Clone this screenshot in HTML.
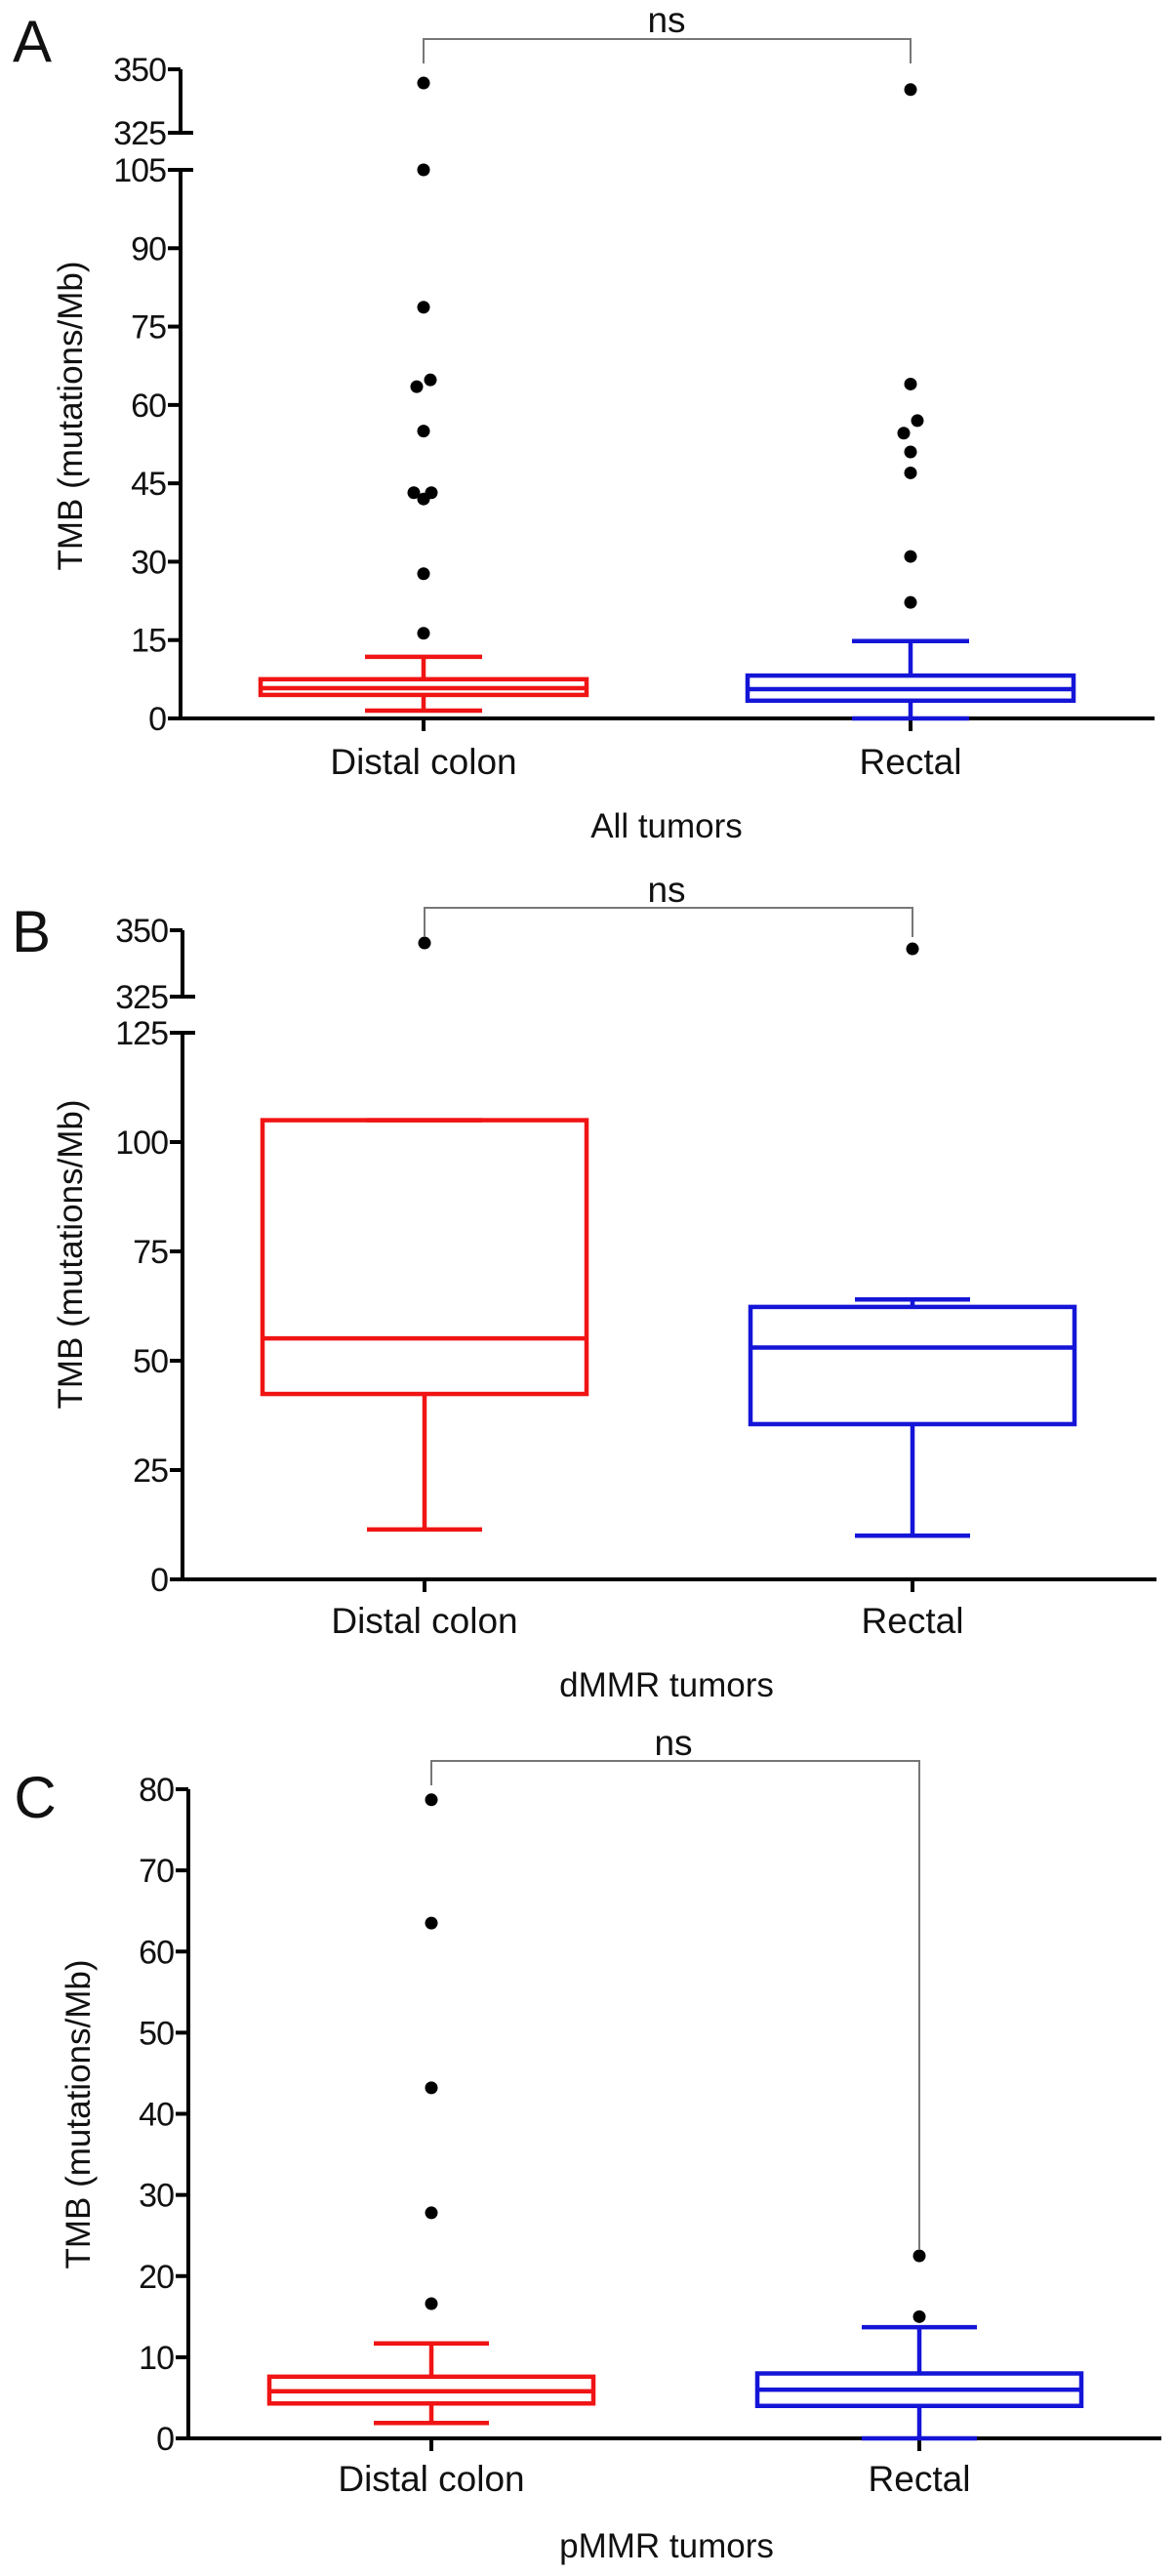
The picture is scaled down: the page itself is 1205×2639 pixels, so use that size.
<!DOCTYPE html>
<html><head><meta charset="utf-8"><style>
html,body{margin:0;padding:0;background:#fff}
svg{display:block;font-family:"Liberation Sans",Arial,sans-serif}
</style></head><body>
<svg id="fig" width="1205" height="2639" viewBox="0 0 1205 2639" xmlns="http://www.w3.org/2000/svg"></svg>
<script>
// ---- data ----
const categories = ["Distal colon", "Rectal"];
const groupTitles = ["All tumors", "dMMR tumors", "pMMR tumors"];
const panelLetters = ["A", "B", "C"];
// box stats: [min, q1, median, q3, max]
const boxA_distal = [1.5, 4.5, 5.8, 7.5, 11.8];
const boxA_rectal = [0, 3.4, 5.6, 8.2, 14.8];
const outA_distal = [344.6, 105, 78.7, 63.5, 64.8, 55, 43.2, 42, 43.2, 27.7, 16.3];
const outA_rectal = [342, 64, 57, 54.6, 51, 47, 31, 22.2];
const boxB_distal = [11.4, 42.4, 55.1, 105, 105];
const boxB_rectal = [10, 35.5, 53, 62.3, 64];
const outB_distal = [345.2];
const outB_rectal = [343];
const boxC_distal = [1.9, 4.3, 5.8, 7.6, 11.7];
const boxC_rectal = [0, 4, 6, 8, 13.7];
const outC_distal = [78.7, 63.5, 43.2, 27.8, 16.6];
const outC_rectal = [22.5, 15];
const ticksA_low = [0, 15, 30, 45, 60, 75, 90, 105];
const ticksA_high = [325, 350];
const ticksB_low = [0, 25, 50, 75, 100, 125];
const ticksB_high = [325, 350];
const ticksC = [0, 10, 20, 30, 40, 50, 60, 70, 80];

// ---- layout (not data) ----
const svg = document.getElementById('fig');
const NS = 'http://www.w3.org/2000/svg';
function mk(tag, attrs, parent) {
  const e = document.createElementNS(NS, tag);
  for (const k in attrs) e.setAttribute(k, attrs[k]);
  (parent || svg).appendChild(e);
  return e;
}
const panels = [
  {axisX:185, xEnd:1183, cx:[434,933], boxHalf:167, capHalf:60,
   low:{v0:0, v1:105, p0:736, p1:174}, high:{v0:325, v1:350, p0:136, p1:71},
   ticksLow:ticksA_low, ticksHigh:ticksA_high,
   boxes:[boxA_distal, boxA_rectal], outs:[outA_distal, outA_rectal],
   jit:[[0,0,0,-7,7,0,-10,0,8,0,0],[0,0,7,-7,0,0,0,0]],
   letter:[33,63], ns:[683,33], brY:40, legL:65, legR:65,
   catY:793, titleY:858, ytitle:[72,426]},
  {axisX:187, xEnd:1185, cx:[435,935], boxHalf:166, capHalf:59,
   low:{v0:0, v1:125, p0:1618, p1:1058}, high:{v0:325, v1:350, p0:1021, p1:953},
   ticksLow:ticksB_low, ticksHigh:ticksB_high,
   boxes:[boxB_distal, boxB_rectal], outs:[outB_distal, outB_rectal],
   jit:[[0],[0]],
   letter:[32,975], ns:[683,924], brY:930, legL:960, legR:960,
   catY:1673, titleY:1738, ytitle:[72,1285]},
  {axisX:193, xEnd:1190, cx:[442,942], boxHalf:166, capHalf:59,
   low:{v0:0, v1:80, p0:2498, p1:1833}, high:null,
   ticksLow:ticksC, ticksHigh:[],
   boxes:[boxC_distal, boxC_rectal], outs:[outC_distal, outC_rectal],
   jit:[[0,0,0,0,0],[0,0]],
   letter:[36,1862], ns:[690,1798], brY:1804, legL:1829, legR:2305,
   catY:2552, titleY:2620, ytitle:[80,2166]}
];
const red = '#f01414', blue = '#1515d8';

panels.forEach((P, pi) => {
  const g = mk('g', {});
  
  
  const y = v => {
    if (P.high && v >= P.high.v0 - 1) return P.high.p0 + (v - P.high.v0) * (P.high.p1 - P.high.p0) / (P.high.v1 - P.high.v0);
    return P.low.p0 + (v - P.low.v0) * (P.low.p1 - P.low.p0) / (P.low.v1 - P.low.v0);
  };
  const L = mk('text', {x:P.letter[0], y:P.letter[1], 'font-size':60, 'text-anchor':'middle', fill:'#111'}, g);
  L.textContent = panelLetters[pi];
  
  
  const yt = mk('text', {x:0, y:0, 'font-size':35, 'text-anchor':'middle', fill:'#111',
    transform:`translate(${P.ytitle[0]+12},${P.ytitle[1]}) rotate(-90)`}, g);
  yt.textContent = 'TMB (mutations/Mb)';
  
  
  const ax = mk('line', {x1:P.axisX, x2:P.axisX, y1:y(P.low.v1), y2:y(P.low.v0)+2, stroke:'#000', 'stroke-width':4}, g);
  
  
  if (P.high) {
    const ax2 = mk('line', {x1:P.axisX, x2:P.axisX, y1:y(P.high.v1), y2:y(P.high.v0), stroke:'#000', 'stroke-width':4}, g);
    
    
  }
  const xa = mk('line', {x1:P.axisX-2, x2:P.xEnd, y1:y(0), y2:y(0), stroke:'#000', 'stroke-width':4}, g);
  
  
  const allTicks = P.ticksLow.concat(P.ticksHigh);
  allTicks.forEach(t => {
    const ty = y(t);
    const isBreak = P.high && (t === P.high.v0 || t === P.low.v1);
    const tk = mk('line', {x1:P.axisX-13, x2:P.axisX + (isBreak ? 13 : 0), y1:ty, y2:ty, stroke:'#000', 'stroke-width':4}, g);
    
    
    const tl = mk('text', {x:P.axisX-15, y:ty+12, 'font-size':34, 'text-anchor':'end', fill:'#111', 'letter-spacing':'-1'}, g);
    tl.textContent = t;
    
    
  });
  categories.forEach((c, ci) => {
    const cx = P.cx[ci];
    const xt = mk('line', {x1:cx, x2:cx, y1:y(0), y2:y(0)+13, stroke:'#000', 'stroke-width':4}, g);
    
    
    const cl = mk('text', {x:cx, y:P.catY, 'font-size':37, 'text-anchor':'middle', fill:'#111'}, g);
    cl.textContent = c;
    
    
    const b = P.boxes[ci];
    const col = ci === 0 ? red : blue;
    const bg = mk('g', {stroke:col, 'stroke-width':4.5, fill:'none'}, g);
    
    
    mk('line', {x1:cx, x2:cx, y1:y(b[0]), y2:y(b[1])}, bg);
    mk('line', {x1:cx, x2:cx, y1:y(b[3]), y2:y(b[4])}, bg);
    mk('line', {x1:cx-P.capHalf, x2:cx+P.capHalf, y1:y(b[0]), y2:y(b[0])}, bg);
    mk('line', {x1:cx-P.capHalf, x2:cx+P.capHalf, y1:y(b[4]), y2:y(b[4])}, bg);
    mk('rect', {x:cx-P.boxHalf, y:y(b[3]), width:2*P.boxHalf, height:y(b[1])-y(b[3])}, bg);
    mk('line', {x1:cx-P.boxHalf, x2:cx+P.boxHalf, y1:y(b[2]), y2:y(b[2])}, bg);
    P.outs[ci].forEach((v, k) => {
      const d = mk('circle', {cx:cx + (P.jit[ci][k] || 0), cy:y(v), r:6.5, fill:'#000'}, g);
      
      
    });
  });
  const br = mk('path', {d:`M${P.cx[0]},${P.legL} V${P.brY} H${P.cx[1]} V${P.legR}`, stroke:'#777', 'stroke-width':2, fill:'none'}, g);
  
  
  const ns = mk('text', {x:P.ns[0], y:P.ns[1], 'font-size':37, 'text-anchor':'middle', fill:'#111'}, g);
  ns.textContent = 'ns';
  
  
  const gt = mk('text', {x:683, y:P.titleY, 'font-size':35, 'text-anchor':'middle', fill:'#111'}, g);
  gt.textContent = groupTitles[pi];
  
  
});
</script>
</body></html>
